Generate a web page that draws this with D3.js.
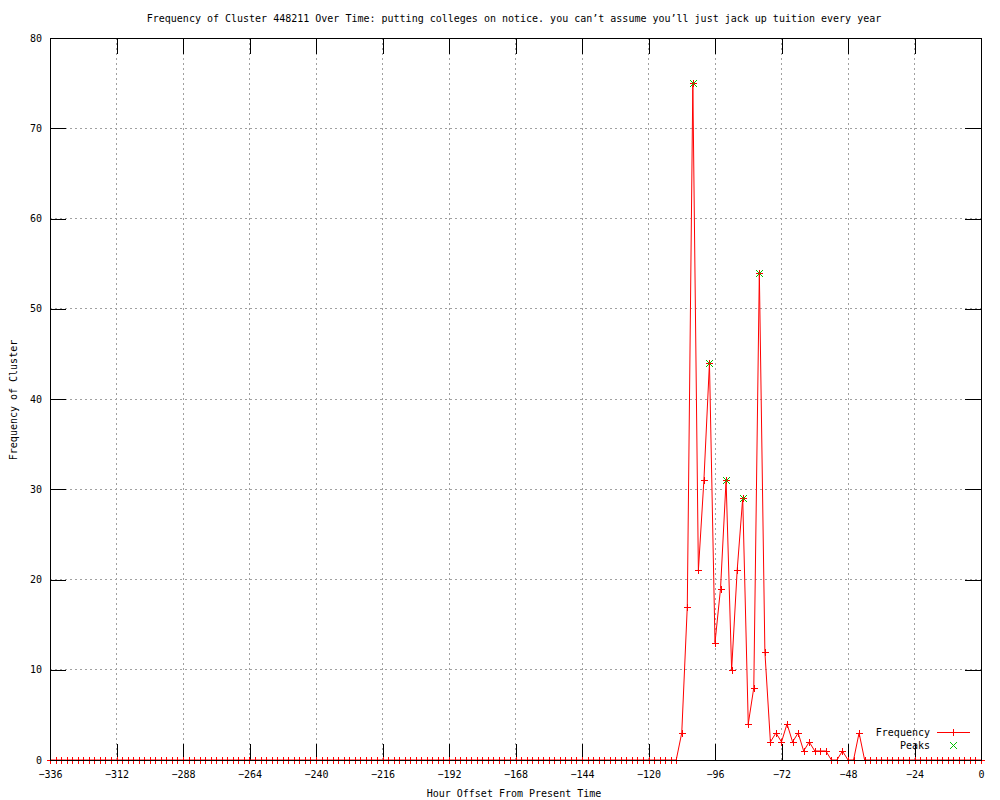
<!DOCTYPE html>
<html lang="en">

<head>
    <meta charset="UTF-8">
    <title>Frequency of Cluster 448211</title>
    <script src="https://d3js.org/d3.v7.min.js"></script>
    <style>
        body { margin: 0; background: #fff; }
        svg { font-family: "DejaVu Sans Mono", monospace; font-size: 10px; }
        .grid line { stroke: #a0a0a0; stroke-dasharray: 2 3; shape-rendering: crispEdges; }
        .tick line { stroke: #000; shape-rendering: crispEdges; }
    </style>
</head>

<body>
    <svg width="1000" height="800"></svg>

    <script>
        const width = 1000;
        const height = 800;
        const margin = { left: 50, right: 19, top: 38, bottom: 40 };

        // hour offsets -336 .. 0, one point every 2 hours
        const hourStart = -336;
        const hourStep = 2;

        // counts per bin
        const frequency = [
            0,0,0,0,0,0,0,0,0,0,0,0,0,0,0,0,0,0,0,
            0,0,0,0,0,0,0,0,0,0,0,0,0,0,0,0,0,0,0,
            0,0,0,0,0,0,0,0,0,0,0,0,0,0,0,0,0,0,0,
            0,0,0,0,0,0,0,0,0,0,0,0,0,0,0,0,0,0,0,
            0,0,0,0,0,0,0,0,0,0,0,0,0,0,0,0,0,0,0,
            0,0,0,0,0,0,0,0,0,0,0,0,0,0,0,0,0,0,0,
            3,17,75,21,31,44,13,19,31,10,21,29,4,8,54,12,2,3,2,4,2,3,1,2,1,1,1,0,0,1,0,0,3,
            0,0,0,0,0,0,0,0,0,0,0,0,0,0,0,0,0,0,0,0,0,0
        ];

        const peakHours = [-104, -98, -92, -86, -80];
        const peakValues = [75, 44, 31, 29, 54];

        const xTicks = [-336, -312, -288, -264, -240, -216, -192, -168, -144, -120, -96, -72, -48, -24, 0];
        const yTicks = [0, 10, 20, 30, 40, 50, 60, 70, 80];

        const titleText = "Frequency of Cluster 448211 Over Time: putting colleges on notice. you can\u2019t assume you\u2019ll just jack up tuition every year";

        const svg = d3.select("svg");
        const plotW = width - margin.left - margin.right;
        const plotH = height - margin.top - margin.bottom;

        const x = d3.scaleLinear().domain([-336, 0]).range([margin.left, margin.left + plotW]);
        const y = d3.scaleLinear().domain([0, 80]).range([margin.top + plotH, margin.top]);

        const series = frequency.map((v, i) => ({ h: hourStart + i * hourStep, v: v }));
        const peaks = peakHours.map((h, i) => ({ h: h, v: peakValues[i] }));

        // grid
        const grid = svg.append("g").attr("class", "grid");
        grid.selectAll(".gx").data(xTicks.slice(1, -1)).enter().append("line")
            .attr("x1", d => x(d)).attr("x2", d => x(d))
            .attr("y1", margin.top).attr("y2", margin.top + plotH);
        grid.selectAll(".gy").data(yTicks.slice(1, -1)).enter().append("line")
            .attr("x1", margin.left).attr("x2", margin.left + plotW)
            .attr("y1", d => y(d)).attr("y2", d => y(d));

        // axes with mirrored inward ticks
        const tl = 16;
        svg.append("g").attr("transform", `translate(0,${margin.top + plotH})`)
            .call(d3.axisBottom(x).tickValues(xTicks).tickSizeInner(-tl).tickSizeOuter(0).tickPadding(11).tickFormat(d3.format("d")));
        svg.append("g").attr("transform", `translate(0,${margin.top})`)
            .call(d3.axisTop(x).tickValues(xTicks).tickSizeInner(-tl).tickSizeOuter(0).tickFormat(""));
        svg.append("g").attr("transform", `translate(${margin.left},0)`)
            .call(d3.axisLeft(y).tickValues(yTicks).tickSizeInner(-tl).tickSizeOuter(0).tickPadding(8));
        svg.append("g").attr("transform", `translate(${margin.left + plotW},0)`)
            .call(d3.axisRight(y).tickValues(yTicks).tickSizeInner(-tl).tickSizeOuter(0).tickFormat(""));
        svg.selectAll(".domain").remove();
        svg.selectAll(".tick text").attr("fill", "#000").style("font-family", "DejaVu Sans Mono").style("font-size", "10px");

        // data line
        const line = d3.line().x(d => x(d.h)).y(d => y(d.v));
        svg.append("path").datum(series)
            .attr("d", line).attr("fill", "none").attr("stroke", "#ff0000").attr("stroke-width", 1);

        const ms = 3.5;
        function plus(g, cx, cy, color) {
            g.append("path").attr("d", `M${cx - ms},${cy}H${cx + ms}M${cx},${cy - ms}V${cy + ms}`)
                .attr("stroke", color).attr("fill", "none").attr("shape-rendering", "crispEdges");
        }
        function cross(g, cx, cy, color) {
            g.append("path").attr("d", `M${cx - ms},${cy - ms}L${cx + ms},${cy + ms}M${cx - ms},${cy + ms}L${cx + ms},${cy - ms}`)
                .attr("stroke", color).attr("fill", "none");
        }

        const marks = svg.append("g");
        series.forEach(d => plus(marks, Math.round(x(d.h)) + 0.5, Math.round(y(d.v)) + 0.5, "#ff0000"));
        peaks.forEach(d => cross(marks, Math.round(x(d.h)) + 0.5, Math.round(y(d.v)) + 0.5, "#00c000"));

        // frame
        svg.append("rect")
            .attr("x", margin.left + 0.5).attr("y", margin.top + 0.5)
            .attr("width", plotW).attr("height", plotH)
            .attr("fill", "none").attr("stroke", "#000").attr("shape-rendering", "crispEdges");

        // legend
        const lg = svg.append("g");
        lg.append("text").attr("x", 930).attr("y", 736).attr("text-anchor", "end").text("Frequency");
        lg.append("line").attr("x1", 937).attr("x2", 970).attr("y1", 732.5).attr("y2", 732.5)
            .attr("stroke", "#ff0000").attr("shape-rendering", "crispEdges");
        plus(lg, 953.5, 732.5, "#ff0000");
        lg.append("text").attr("x", 930).attr("y", 749).attr("text-anchor", "end").text("Peaks");
        cross(lg, 953.5, 745.5, "#00c000");

        // titles
        svg.append("text").attr("x", 514).attr("y", 22).attr("text-anchor", "middle").text(titleText);
        svg.append("text").attr("x", 514).attr("y", 797).attr("text-anchor", "middle").text("Hour Offset From Present Time");
        svg.append("text").attr("transform", "translate(17,400) rotate(-90)")
            .attr("text-anchor", "middle").text("Frequency of Cluster");
    </script>
</body>

</html>
